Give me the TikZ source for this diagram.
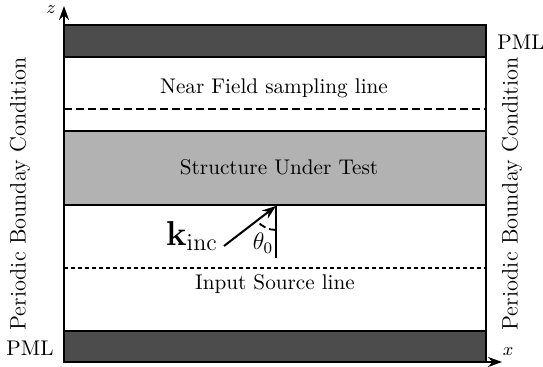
\documentclass[tikz,border=0pt]{standalone}
\usetikzlibrary{arrows.meta,calc}
\begin{document}
\begin{tikzpicture}[x=0.5pt,y=-0.5pt,
  frame/.style={line width=1pt},
  pml/.style={frame,fill=black!70},
  sut/.style={frame,fill=black!30},
  axis/.style={line width=1pt,-{Stealth[length=7pt,width=5pt]}},
  lbl/.style={font=\fontsize{10.6}{13}\selectfont},
  sidelbl/.style={font=\fontsize{11.2}{13}\selectfont,rotate=90}]
\useasboundingbox (0,0) rectangle (543,367);
% domain
\draw[frame] (64,25) rectangle (486,362);
\draw[pml] (64,25) rectangle (486,57);
\draw[pml] (64,331) rectangle (486,362);
\draw[sut] (64,131) rectangle (486,205);
% sampling and source lines
\draw[line width=0.8pt,dash pattern=on 4pt off 2pt] (64,109) -- (486,109);
\draw[line width=0.8pt,dash pattern=on 2pt off 1.5pt] (64,268) -- (486,268);
\node[lbl] (nf) at (274,88) {Near Field sampling line};
\node[lbl] (st) at (279,167) {Structure Under Test};
\node[lbl] (is) at (275,284) {Input Source line};
% axes
\coordinate (o) at (64,362);
\coordinate (zt) at (64,6);
\coordinate (xt) at (502,362);
\draw[axis] (o) -- (zt);
\draw[axis] (o) -- (xt);
\node[font=\small] at (51,10) {$z$};
\node[font=\small] at (508,352) {$x$};
% boundary labels
\node[sidelbl] (pbl) at (20,194) {Periodic Bounday Condition};
\node[sidelbl] (pbr) at (512,194) {Periodic Bounday Condition};
\node[lbl] (pmlt) at (521,42) {PML};
\node[lbl] (pmlb) at (30,348) {PML};
% incident wave
\coordinate (tip) at (276,206);
\coordinate (tail) at (224,246);
\coordinate (foot) at (276,258);
\draw[line width=1pt,-{Stealth[length=7pt,width=5pt]}] (tail) -- (tip);
\draw[line width=1pt] (tip) -- (foot);
\draw[line width=0.9pt,dash pattern=on 3.5pt off 2pt] ($(tip)+(0,24)$) arc[start angle=90,end angle=142,radius=24];
\node (k) at (192,236) {\LARGE$\mathbf{k}_{\mathrm{inc}}$};
\node[font=\large] (th) at (263,243) {$\theta_0$};
\end{tikzpicture}
\end{document}
